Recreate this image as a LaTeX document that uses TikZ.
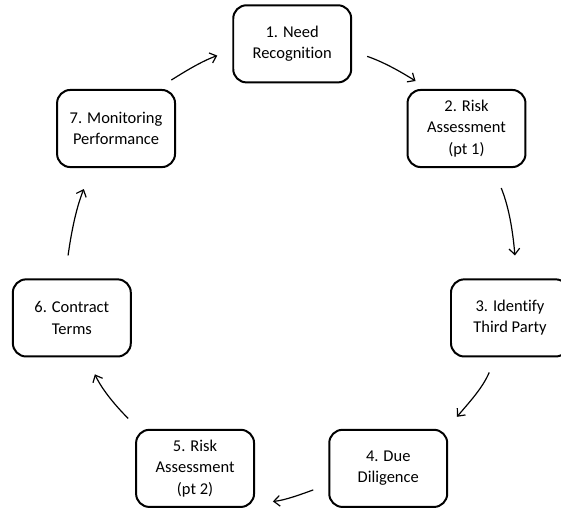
\documentclass[tikz,border=0pt]{standalone}
\usepackage{fontspec}
\setmainfont{Carlito}[Ligatures=NoCommon]
\usetikzlibrary{arrows.meta}
\tikzset{>={Straight Barb[length=4.5pt, width=8pt]}}
\tikzset{
    stage/.style={draw, line width=1.5pt, rounded corners=10pt, minimum width=3.12cm, minimum height=2.04cm, align=center, font=\fontsize{12.4}{16}\selectfont},
    cyc/.style={->, line width=.9pt}
}

\begin{document}
\begin{tikzpicture}
    \useasboundingbox(0, 0) rectangle(14.84, 13.49);
    \node[stage](need)at(7.73, 12.33){1. Need\\Recognition};
    \node[stage](risk1)at(12.34, 10.09){2. Risk\\Assessment\\(pt 1)};
    \node[stage](identify)at(13.49, 5.08){3. Identify\\Third Party};
    \node[stage](due)at(10.27, 1.1){4. Due\\Diligence};
    \node[stage](risk2)at(5.16, 1.1){5. Risk\\Assessment\\(pt 2)};
    \node[stage](contract)at(1.9, 5.08){6. Contract\\Terms};
    \node[stage](monitor)at(3.07, 10.09){7. Monitoring\\Performance};
    \draw[cyc, shorten <=11.9pt, shorten >=11.3pt](need.-7)to[out=-19, in=148](risk1.134);
    \draw[cyc, shorten <=16.2pt, shorten >=17.3pt](risk1.-56)to[out=-68, in=95](identify.80);
    \draw[cyc, shorten <=12.2pt, shorten >=11.8pt](identify.-110)to[out=-113, in=50](due.34);
    \draw[cyc, shorten <=12pt, shorten >=13.5pt](due.-165)to[out=-160, in=5](risk2.-30);
    \draw[cyc, shorten <=11.1pt, shorten >=14pt](risk2.145)to[out=135, in=-65](contract.-69);
    \draw[cyc, shorten <=17.4pt, shorten >=17pt](contract.100)to[out=82, in=-112](monitor.-121);
    \draw[cyc, shorten <=12.7pt, shorten >=12pt](monitor.44)to[out=32, in=200](need.-174);
\end{tikzpicture}
\end{document}
